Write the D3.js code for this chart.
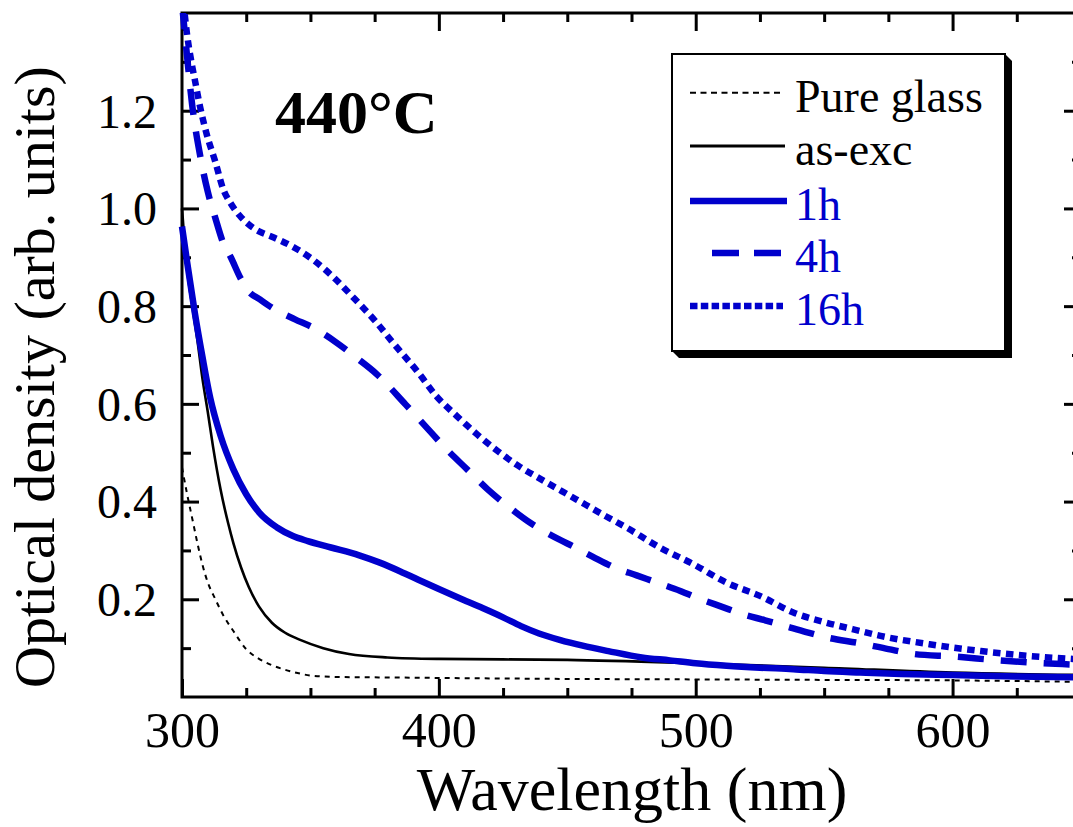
<!DOCTYPE html>
<html>
<head>
<meta charset="utf-8">
<script src="https://cdn.jsdelivr.net/npm/d3@7"></script>
<style>
  html, body { margin: 0; padding: 0; background: #fff; }
  svg { display: block; }
  text { font-family: "Liberation Serif", "Times New Roman", serif; }
</style>
</head>
<body>
<svg id="chart" width="1073" height="827"></svg>
<script>
// ---------------- data ----------------
const xMajorTicks = [300, 400, 500, 600];
const xMinorTicks = [325, 350, 375, 425, 450, 475, 525, 550, 575, 625];
const yMajorTicks = [0.2, 0.4, 0.6, 0.8, 1.0, 1.2];
const yMinorTicks = [0.1, 0.3, 0.5, 0.7, 0.9, 1.1, 1.3];
const yTickLabels = ["0.2", "0.4", "0.6", "0.8", "1.0", "1.2"];

const seriesNames = ["Pure glass", "as-exc", "1h", "4h", "16h"];

const glassWl = [300,302,304,306,308,310,313,316,320,325,330,335,340,345,350,360,380,400,450,500,550,600,650];
const glassOD = [0.47,0.415,0.365,0.315,0.27,0.235,0.2,0.168,0.135,0.098,0.078,0.065,0.056,0.049,0.044,0.041,0.040,0.039,0.037,0.036,0.035,0.034,0.031];

const asexcWl = [300,301,302,304,306,308,310,312,315,318,320,323,326,330,335,340,346,355,365,380,400,450,500,550,600,650];
const asexcOD = [1.00,0.93,0.875,0.80,0.73,0.65,0.585,0.515,0.425,0.355,0.315,0.265,0.225,0.185,0.152,0.132,0.117,0.1,0.088,0.081,0.078,0.076,0.069,0.06,0.05,0.045];

const oneHWl = [300,302,305,308,311,315,320,325,330,337,343,349,358,369,377,385,392,400,409,417,425,432,439,447,456,466,479,490,500,512,525,538,550,564,580,600,625,650];
const oneHOD = [0.963,0.89,0.786,0.695,0.612,0.535,0.466,0.415,0.378,0.347,0.33,0.319,0.306,0.29,0.275,0.257,0.24,0.221,0.2,0.182,0.163,0.145,0.13,0.117,0.105,0.094,0.081,0.075,0.069,0.064,0.06,0.057,0.053,0.05,0.047,0.045,0.042,0.04];

const fourHWl = [300,302,304,307,310,313,316,319,323,326,330,335,344,351,360,368,376,387,395,403,411,419,427,436,447,452,460,468,477,485,494,502,510,518,527,535,543,551,564,575,585,600,618,635,650];
const fourHOD = [1.42,1.31,1.21,1.11,1.035,0.98,0.93,0.9,0.855,0.83,0.815,0.797,0.773,0.756,0.726,0.694,0.66,0.599,0.553,0.507,0.466,0.425,0.39,0.355,0.322,0.309,0.287,0.266,0.249,0.234,0.217,0.2,0.185,0.17,0.157,0.145,0.133,0.122,0.11,0.098,0.088,0.083,0.075,0.069,0.066];

const sixteenHWl = [300,302,304,305,307,309.5,313,316,319,322.5,326,330,335,343,351,360,367,375,382,392,399,407,415,423,431,440,448,457,465,473,486,499,512,525,538,551,561,572,591,611,630,650];
const sixteenHOD = [1.45,1.355,1.29,1.263,1.209,1.154,1.095,1.04,1.01,0.985,0.967,0.953,0.942,0.922,0.895,0.854,0.816,0.771,0.726,0.664,0.616,0.575,0.537,0.503,0.473,0.445,0.421,0.394,0.37,0.347,0.306,0.272,0.234,0.207,0.173,0.152,0.139,0.125,0.108,0.094,0.084,0.077];

// ---------------- layout ----------------
const BLUE = "#0000cc";
const pL = 182, pR = 1081, pT = 13, pB = 697;

const svg = d3.select("#chart");
svg.append("rect").attr("width", 1073).attr("height", 827).attr("fill", "#fff");

const x = d3.scaleLinear().domain([300, 650]).range([pL, pR]);
const y = d3.scaleLinear().domain([0, 1.4]).range([pB, pT]);

function styleAxis(g) {
  g.select(".domain").remove();
  g.selectAll(".tick line").attr("stroke", "#000").attr("stroke-width", 3);
  g.selectAll(".tick text").attr("fill", "#000");
}

// bottom axis
svg.append("g").attr("transform", `translate(0,${pB})`)
  .call(d3.axisBottom(x).tickValues(xMajorTicks).tickSize(-18).tickSizeOuter(0)
    .tickPadding(14).tickFormat(d3.format("d")))
  .call(styleAxis)
  .call(g => g.selectAll(".tick text").attr("font-size", 50).attr("font-family", "Liberation Serif, serif"));
svg.append("g").attr("transform", `translate(0,${pB})`)
  .call(d3.axisBottom(x).tickValues(xMinorTicks).tickSize(-9).tickSizeOuter(0).tickFormat(""))
  .call(styleAxis);
// top axis
svg.append("g").attr("transform", `translate(0,${pT})`)
  .call(d3.axisTop(x).tickValues(xMajorTicks).tickSize(-18).tickSizeOuter(0).tickFormat(""))
  .call(styleAxis);
svg.append("g").attr("transform", `translate(0,${pT})`)
  .call(d3.axisTop(x).tickValues(xMinorTicks).tickSize(-9).tickSizeOuter(0).tickFormat(""))
  .call(styleAxis);
// left axis
svg.append("g").attr("transform", `translate(${pL},0)`)
  .call(d3.axisLeft(y).tickValues(yMajorTicks).tickSize(-17).tickSizeOuter(0)
    .tickPadding(25).tickFormat((d, i) => yTickLabels[i]))
  .call(styleAxis)
  .call(g => g.selectAll(".tick text").attr("font-size", 48).attr("dy", "0.34em")
    .attr("font-family", "Liberation Serif, serif"));
svg.append("g").attr("transform", `translate(${pL},0)`)
  .call(d3.axisLeft(y).tickValues(yMinorTicks).tickSize(-9).tickSizeOuter(0).tickFormat(""))
  .call(styleAxis);
// right axis
svg.append("g").attr("transform", `translate(${pR},0)`)
  .call(d3.axisRight(y).tickValues(yMajorTicks).tickSize(-17).tickSizeOuter(0).tickFormat(""))
  .call(styleAxis);
svg.append("g").attr("transform", `translate(${pR},0)`)
  .call(d3.axisRight(y).tickValues(yMinorTicks).tickSize(-9).tickSizeOuter(0).tickFormat(""))
  .call(styleAxis);

// frame
svg.append("rect").attr("x", pL).attr("y", pT)
  .attr("width", pR - pL).attr("height", pB - pT)
  .attr("fill", "none").attr("stroke", "#000").attr("stroke-width", 3);

// axis titles
svg.append("text").attr("x", 632).attr("y", 810).attr("text-anchor", "middle")
  .attr("font-size", 62).text("Wavelength (nm)");
svg.append("text").attr("transform", "translate(54,377) rotate(-90)")
  .attr("text-anchor", "middle").attr("font-size", 58).text("Optical density (arb. units)");

// annotation
svg.append("text").attr("x", 275).attr("y", 133).attr("font-size", 62)
  .attr("font-weight", "bold").text("440°C");

// ---------------- curves ----------------
svg.append("clipPath").attr("id", "plotClip").append("rect")
  .attr("x", pL - 6).attr("y", pT).attr("width", pR - pL + 6).attr("height", pB - pT);

const line = d3.line().x(d => x(d[0])).y(d => y(d[1])).curve(d3.curveMonotoneX);
const zip = (a, b) => a.map((v, i) => [v, b[i]]);

const series = [
  { name: seriesNames[0], data: zip(glassWl, glassOD), color: "#000", width: 2, dash: "5,5", legDash: "6,4.5" },
  { name: seriesNames[1], data: zip(asexcWl, asexcOD), color: "#000", width: 2.6, dash: null, legDash: null },
  { name: seriesNames[2], data: zip(oneHWl, oneHOD), color: BLUE, width: 6.5, dash: null, legDash: null },
  { name: seriesNames[3], data: zip(fourHWl, fourHOD), color: BLUE, width: 6.5, dash: "26,17", legDash: "27,15" },
  { name: seriesNames[4], data: zip(sixteenHWl, sixteenHOD), color: BLUE, width: 6.5, dash: "7.5,5.5", legDash: "7.5,3.3" }
];

const plot = svg.append("g").attr("clip-path", "url(#plotClip)");
series.forEach(s => {
  plot.append("path").datum(s.data)
    .attr("d", line)
    .attr("fill", "none")
    .attr("stroke", s.color)
    .attr("stroke-width", s.width)
    .attr("stroke-dasharray", s.dash)
    .attr("stroke-linejoin", "round");
});

// ---------------- legend ----------------
const lg = svg.append("g");
const lx = 672, ly = 54, lw = 333, lh = 297, sh = 7;
lg.append("path")
  .attr("d", `M${lx + lw},${ly} L${lx + lw + sh},${ly + sh} L${lx + lw + sh},${ly + lh + sh} L${lx + sh},${ly + lh + sh} L${lx},${ly + lh} Z`)
  .attr("fill", "#000");
lg.append("rect").attr("x", lx).attr("y", ly).attr("width", lw).attr("height", lh)
  .attr("fill", "#fff").attr("stroke", "#000").attr("stroke-width", 2);

const rowBase = [111.7, 165, 220, 272, 325];
series.forEach((s, i) => {
  const yy = rowBase[i] - 19;
  const x0 = i === 3 ? 712 : 690;
  const x1 = i === 2 ? 787 : (i === 1 ? 785 : 783);
  lg.append("line").attr("x1", x0).attr("x2", x1).attr("y1", yy).attr("y2", yy)
    .attr("stroke", s.color)
    .attr("stroke-width", i === 0 ? 2 : (i === 1 ? 3 : s.width))
    .attr("stroke-dasharray", s.legDash);
  lg.append("text").attr("x", 795).attr("y", rowBase[i])
    .attr("font-size", 46).attr("fill", s.color).text(s.name);
});
</script>
</body>
</html>
